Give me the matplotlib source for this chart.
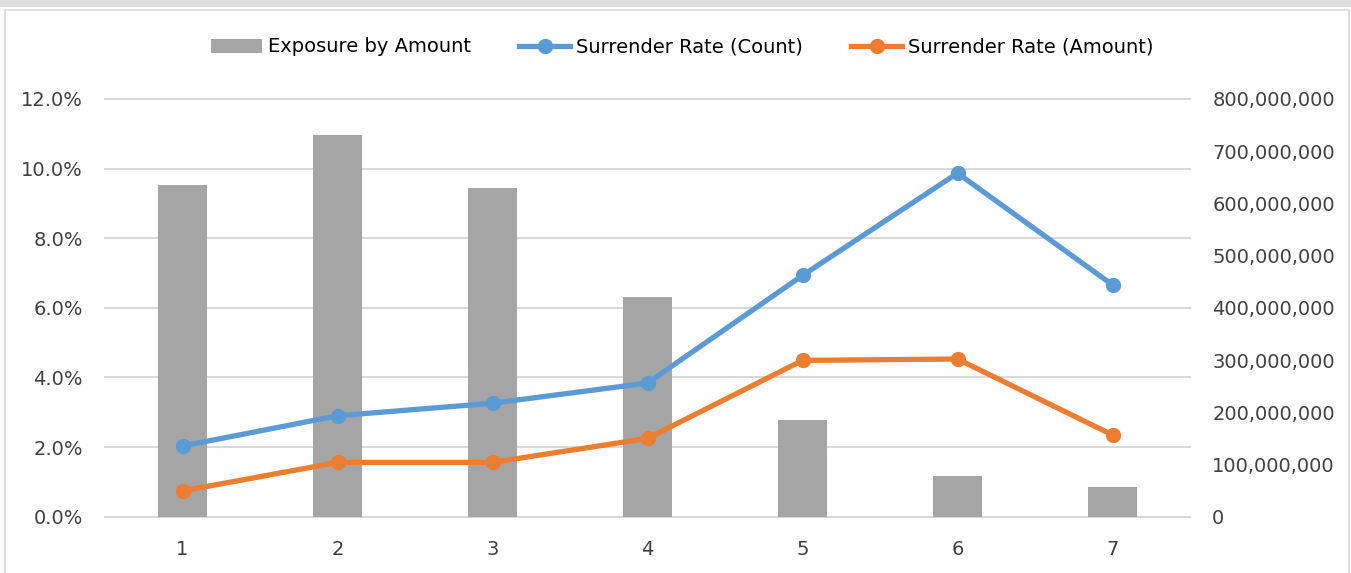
import numpy as np
import matplotlib.pyplot as plt
from matplotlib.patches import Rectangle
from matplotlib.lines import Line2D
from matplotlib.ticker import FuncFormatter

plt.rcParams['font.family'] = 'DejaVu Sans'
plt.rcParams['font.size'] = 14

# Data
durations = [1, 2, 3, 4, 5, 6, 7]
exposure_amount = [635e6, 731e6, 630e6, 421e6, 185e6, 77e6, 56e6]
rate_count = [0.0203, 0.0290, 0.0326, 0.0384, 0.0693, 0.0987, 0.0666]
rate_amount = [0.0074, 0.0156, 0.0156, 0.0225, 0.0449, 0.0453, 0.0235]

text_c = '#404040'
grid_c = '#d9d9d9'
bar_c = '#a5a5a5'
blue = '#5b9bd5'
orange = '#ed7d31'

W, H = 1351, 573
fig = plt.figure(figsize=(W / 100, H / 100), dpi=100)
fig.patch.set_facecolor('white')

# chart frame
fig.patches.append(Rectangle((0, 1 - 7 / H), 1, 7 / H, transform=fig.transFigure,
                             facecolor='#dedede', edgecolor='none'))
fig.patches.append(Rectangle((5 / W, -0.01), 1344 / W, 1 - 9.5 / H + 0.01,
                             transform=fig.transFigure, facecolor='none',
                             edgecolor=grid_c, linewidth=1.2))

left, right = 105 / W, 1190 / W
bottom, top = 1 - 516.7 / H, 1 - 99 / H
ax = fig.add_axes([left, bottom, right - left, top - bottom])
ax2 = ax.twinx()

# gridlines follow the percentage ticks, drawn behind the bars
for v in np.linspace(0, 800e6, 7):
    ax2.axhline(v, color=grid_c, linewidth=1.5, zorder=0, clip_on=False)

# bars on the secondary axis, drawn underneath
ax2.bar(durations, exposure_amount, width=0.31, color=bar_c, zorder=2)
ax2.set_ylim(0, 800e6)
ax2.set_yticks(np.arange(0, 800e6 + 1, 100e6))
ax2.yaxis.set_major_formatter(FuncFormatter(lambda v, p: f'{v:,.0f}'))

# rate lines on the primary axis, on top
ax.set_zorder(ax2.get_zorder() + 1)
ax.patch.set_visible(False)
ax.plot(durations, rate_count, color=blue, lw=3.8, marker='o', ms=10,
        solid_capstyle='round')
ax.plot(durations, rate_amount, color=orange, lw=3.8, marker='o', ms=10,
        solid_capstyle='round')
ax.set_ylim(0, 0.12)
ax.set_yticks(np.arange(0, 0.1201, 0.02))
ax.yaxis.set_major_formatter(FuncFormatter(lambda v, p: f'{v * 100:.1f}%'))
ax.set_xlim(0.5, 7.5)
ax.set_xticks(durations)

for a in (ax, ax2):
    for s in a.spines.values():
        s.set_visible(False)
    a.tick_params(length=0, colors=text_c, labelsize=14)
ax.tick_params(axis='y', pad=16)
ax2.tick_params(axis='y', pad=16)
ax.tick_params(axis='x', pad=17)

handles = [
    Rectangle((0, 0), 1, 1, facecolor=bar_c, edgecolor='none'),
    Line2D([], [], color=blue, lw=3.8, marker='o', ms=10),
    Line2D([], [], color=orange, lw=3.8, marker='o', ms=10),
]
labels = ['Exposure by Amount', 'Surrender Rate (Count)', 'Surrender Rate (Amount)']
leg = fig.legend(handles, labels, loc='center', bbox_to_anchor=(0.505, 1 - 47 / H),
                 ncol=3, frameon=False, fontsize=14, handlelength=2.6,
                 handletextpad=0.3, columnspacing=2.5, labelcolor='black')

fig.savefig('out.png', dpi=100)
